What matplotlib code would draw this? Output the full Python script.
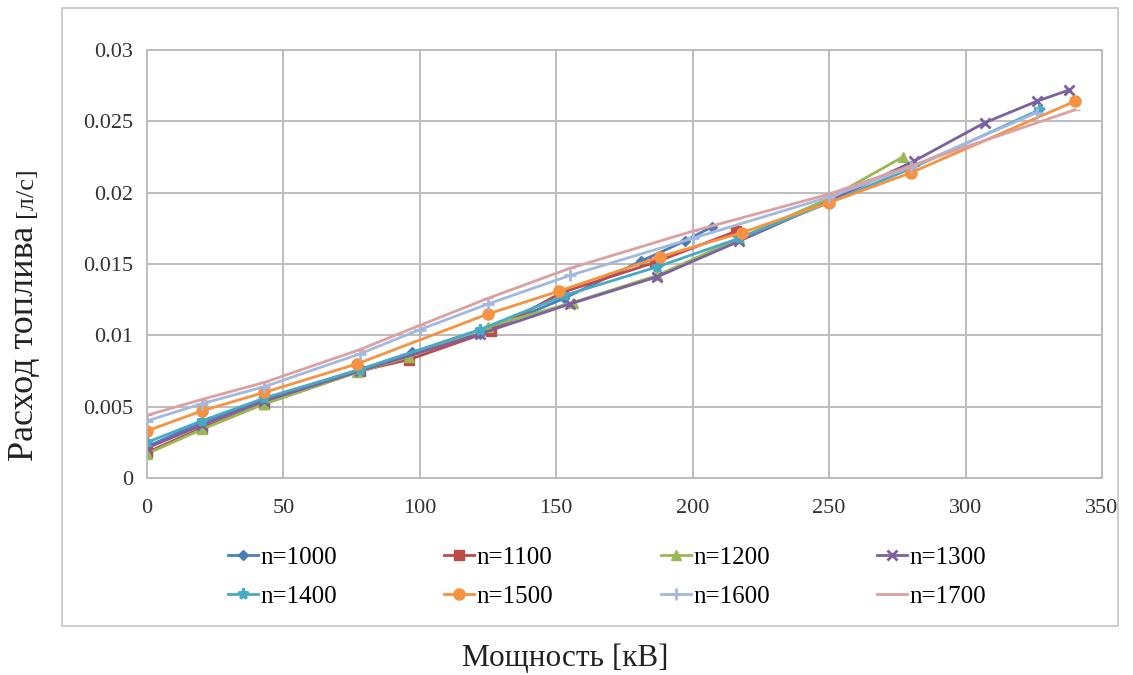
import matplotlib
matplotlib.use("Agg")
import matplotlib.pyplot as plt
from matplotlib.patches import Rectangle

plt.rcParams['font.family'] = ['Liberation Serif', 'DejaVu Serif']

# Fuel consumption vs. engine power at different crankshaft speeds
labels = ["n=1000", "n=1100", "n=1200", "n=1300",
          "n=1400", "n=1500", "n=1600", "n=1700"]

p_1000 = [0, 20, 43, 78, 97, 122, 153, 181, 197, 207]
q_1000 = [0.0022, 0.0039, 0.0055, 0.0076, 0.0088, 0.0101, 0.0126, 0.0152, 0.0166, 0.0176]

p_1100 = [0, 20, 43, 78, 96, 126, 152, 186, 216]
q_1100 = [0.0018, 0.0035, 0.0052, 0.0075, 0.0083, 0.0103, 0.0130, 0.0151, 0.0173]

p_1200 = [0, 20, 43, 77, 96, 125, 156, 187, 217, 250, 277]
q_1200 = [0.0017, 0.0034, 0.0052, 0.0074, 0.0085, 0.0106, 0.0123, 0.0142, 0.0168, 0.0196, 0.0225]

p_1300 = [0, 20, 43, 78, 122, 155, 187, 217, 250, 281, 307, 326, 338]
q_1300 = [0.0021, 0.0037, 0.0054, 0.0075, 0.0101, 0.0122, 0.0141, 0.0166, 0.0194, 0.0222, 0.0249, 0.0264, 0.0272]

p_1400 = [0, 20, 43, 78, 122, 153, 187, 217, 250, 280, 327]
q_1400 = [0.0025, 0.0040, 0.0056, 0.0076, 0.0104, 0.0128, 0.0148, 0.0168, 0.0193, 0.0217, 0.0258]

p_1500 = [0, 20, 43, 77, 125, 151, 188, 218, 250, 280, 340]
q_1500 = [0.0033, 0.0047, 0.0060, 0.0080, 0.0115, 0.0131, 0.0155, 0.0172, 0.0193, 0.0214, 0.0264]

p_1600 = [0, 20, 43, 78, 100, 125, 155, 200, 250, 280, 326]
q_1600 = [0.0040, 0.0052, 0.0064, 0.0087, 0.0104, 0.0122, 0.0142, 0.0168, 0.0197, 0.0218, 0.0256]

p_1700 = [0, 20, 43, 78, 100, 125, 155, 200, 250, 300, 340]
q_1700 = [0.0044, 0.0055, 0.0067, 0.0090, 0.0107, 0.0126, 0.0147, 0.0173, 0.0199, 0.0232, 0.0258]

powers = [p_1000, p_1100, p_1200, p_1300, p_1400, p_1500, p_1600, p_1700]
flows = [q_1000, q_1100, q_1200, q_1300, q_1400, q_1500, q_1600, q_1700]

colors = ["#4A7EBB", "#BE4B48", "#98B954", "#7D60A0",
          "#46AAC5", "#F69240", "#A3B8DF", "#DDA0A0"]
markers = ["D", "s", "^", "x", "*", "o", "+", "_"]
msizes = [5.5, 6.5, 7.5, 7.5, 8, 8, 8, 7]

x_ticks = [0, 50, 100, 150, 200, 250, 300, 350]
y_ticks = [0, 0.005, 0.01, 0.015, 0.02, 0.025, 0.03]
y_ticklabels = ["0", "0.005", "0.01", "0.015", "0.02", "0.025", "0.03"]

W, H = 1133, 675
fig = plt.figure(figsize=(W / 100, H / 100), dpi=100)

# light frame around the chart area
fig.patches.append(Rectangle((62 / W, 1 - 626 / H), (1118 - 62) / W, (626 - 8) / H,
                             transform=fig.transFigure, fill=False,
                             edgecolor="#C8C8C8", linewidth=1.3))

ax = fig.add_axes([147 / W, 1 - 478 / H, (1102 - 147) / W, (478 - 50) / H])

handles = []
for px, q, c, m, ms, lab in zip(powers, flows, colors, markers, msizes, labels):
    mew = 2.0 if m in ("x", "+", "*") else 1.0
    h, = ax.plot(px, q, color=c, linewidth=2.0, marker=m, markersize=ms,
                 markeredgewidth=mew, markeredgecolor=c, markerfacecolor=c, label=lab)
    handles.append(h)

ax.set_xlim(0, 350)
ax.set_ylim(0, 0.03)
ax.set_xticks(x_ticks)
ax.set_yticks(y_ticks)
ax.set_yticklabels(y_ticklabels)
ax.tick_params(axis="both", length=0, labelsize=16, colors="#333333")
ax.tick_params(axis="y", pad=10)
ax.tick_params(axis="x", pad=15)
ax.grid(True, color="#BDBDBD", linewidth=1.4)
ax.set_axisbelow(True)
for s in ax.spines.values():
    s.set_color("#BDBDBD")
    s.set_linewidth(1.4)

# legend laid out row by row (4 per row)
order = [0, 4, 1, 5, 2, 6, 3, 7]
leg = ax.legend([handles[i] for i in order], [labels[i] for i in order],
                loc="center", bbox_to_anchor=(607 / W, 1 - 577 / H),
                bbox_transform=fig.transFigure, ncol=4, frameon=False,
                fontsize=18, handlelength=1.2, handletextpad=0.1,
                columnspacing=4.3, labelspacing=0.65)

# axis titles
fig.text(565 / W, 1 - 658 / H, "Мощность [кВ]", fontsize=22.5,
         ha="center", va="center", color="#222222")

fig.canvas.draw()
r = fig.canvas.get_renderer()
t1 = fig.text(25 / W, 1 - 461 / H, "Расход топлива", fontsize=26, rotation=90,
              ha="center", va="bottom", color="#222222")
bb = t1.get_window_extent(renderer=r)
fig.text(bb.x0 + bb.width / 2 + 1, bb.y1 + 9, "[л/с]", fontsize=19, rotation=90,
         ha="center", va="bottom", color="#222222", transform=None)

fig.savefig("out.png", dpi=100)
